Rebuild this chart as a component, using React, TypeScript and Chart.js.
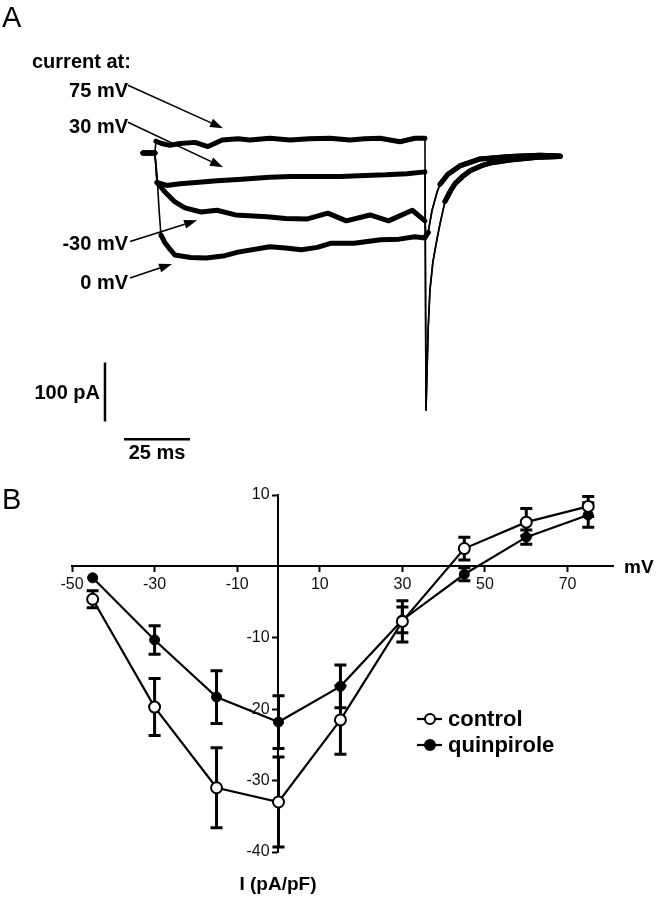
import React, { useEffect, useRef } from 'react';
import { Chart, registerables } from 'chart.js';

Chart.register(...registerables);

const FONT = '"Liberation Sans", Arial, Helvetica, sans-serif';
Chart.defaults.font.family = FONT;

// ---------------- Panel A data: [time (ms), current (pA)] ----------------
const trace75mV: number[][] = [
  [0, 0], [4.5, 0], [4.9, 20], [7, 16], [10.2, 13], [14, 16], [19.7, 18], [24.6, 11], [30, 22],
  [36, 24], [40.5, 22], [48, 25], [55.7, 22], [63, 24], [70.8, 25], [78.4, 22], [84, 24],
  [89.8, 25], [97.3, 19], [103, 25], [106.8, 25],
];
const trace30mV: number[][] = [
  [0, 0], [4.5, 0], [5.3, -50], [9, -55], [14, -52], [20, -50], [28, -47], [36, -45], [48, -41],
  [56, -40], [67, -40], [75, -40], [84, -38], [92, -37], [100, -35], [106.8, -32],
];
const traceMinus30mV: number[][] = [
  [0, 0], [4.5, 0], [5.3, -50], [8.3, -66], [12.1, -83], [15.9, -93], [22, -100], [28, -97],
  [35, -105], [47, -108], [54, -111], [62, -112], [70, -102], [77, -115], [86, -105], [93, -115],
  [102, -97], [106.8, -115],
];
const trace0mV: number[][] = [
  [0, 0], [4.5, 0], [5.3, -37], [6.1, -97], [6.8, -139], [8.3, -152], [10.2, -163], [12.1, -173],
  [18, -177], [24, -178], [31, -174], [36, -168], [48, -159], [54, -161], [60, -164], [66, -160],
  [71, -153], [80, -153], [90, -147], [97, -146], [103, -142], [106.8, -144],
];
const tailSlow: number[][] = [
  [107.2, -436], [107.6, -370], [108, -300], [108.7, -232], [109.8, -185], [111.4, -145],
  [112.5, -120], [114.4, -82], [116.5, -64], [118.2, -52], [121, -40], [123.9, -30], [128, -22],
  [131.4, -17], [139, -12], [150.4, -7], [158, -6],
];
const tailFast: number[][] = [
  [107.2, -140], [108, -135], [109.5, -97], [111.4, -66], [112.5, -53], [115.5, -36], [120, -22],
  [127.7, -10], [139, -6], [150.4, -4], [158, -5],
];
const traceLabels = ['75 mV', '30 mV', '-30 mV', '0 mV'];
// arrows: [fromTime, fromCurrent, toTime, toCurrent]
const traceArrows: number[][] = [
  [-5.7, 115, 30.3, 42],
  [-5.7, 52, 30.3, -24],
  [-4.9, -150, 20.5, -114],
  [-4.9, -212, 11, -188],
];
const scaleBarCurrent: number[][] = [[-14.4, -355], [-14.4, -455]];
const scaleBarTime: number[][] = [[-7.2, -485], [17.8, -485]];
const scaleBarCurrentLabel = '100 pA';
const scaleBarTimeLabel = '25 ms';

// ---------------- Panel B data ----------------
const voltages = [-45, -30, -15, 0, 15, 30, 45, 60, 75];
const controlMean = [-4.6, -19.7, -31, -33, -21.5, -7.7, 2.5, 6.2, 8.4];
const controlSem = [1.2, 4, 5.6, 6.3, 4.8, 2.9, 1.6, 1.9, 1.4];
const quinMean = [-1.6, -10.3, -18.3, -21.8, -16.8, -7.5, -1.1, 4.1, 7.2];
const quinSem = [0, 2, 3.7, 3.7, 3, 1.8, 0.9, 1, 1.7];
const xTicks = [-50, -30, -10, 10, 30, 50, 70];
const yTicks = [-40, -30, -20, -10, 10];
const seriesNames = ['control', 'quinpirole'];

const W = 657;
const HA = 470;
const HB = 429;
// Panel A layout
const A_ORIGIN_X = 143;
const A_ORIGIN_Y = 153;
const PX_PER_MS = 2.64;
const PX_PER_PA = 0.59;

const pts = (arr: number[][]) => arr.map(([x, y]) => ({ x, y }));

function drawArrow(ctx: CanvasRenderingContext2D, x0: number, y0: number, x1: number, y1: number) {
  const ang = Math.atan2(y1 - y0, x1 - x0);
  const len = 13;
  const hw = 4.5;
  const bx = x1 - len * Math.cos(ang);
  const by = y1 - len * Math.sin(ang);
  ctx.lineWidth = 1.6;
  ctx.beginPath();
  ctx.moveTo(x0, y0);
  ctx.lineTo(bx, by);
  ctx.stroke();
  ctx.beginPath();
  ctx.moveTo(x1, y1);
  ctx.lineTo(bx + hw * Math.sin(ang), by - hw * Math.cos(ang));
  ctx.lineTo(bx - hw * Math.sin(ang), by + hw * Math.cos(ang));
  ctx.closePath();
  ctx.fill();
}

function PanelA() {
  const ref = useRef<HTMLCanvasElement>(null);
  useEffect(() => {
    const canvas = ref.current!;
    const traces = [
      trace75mV.concat(tailSlow),
      trace30mV.concat(tailSlow),
      traceMinus30mV.concat(tailFast),
      trace0mV.concat(tailFast),
    ];
    const annot = {
      id: 'panelAAnnot',
      afterDatasetsDraw(chart: any) {
        const { ctx, scales } = chart;
        const sx = scales.x;
        const sy = scales.y;
        ctx.save();
        ctx.fillStyle = '#000';
        ctx.strokeStyle = '#000';
        traceArrows.forEach(([t0, i0, t1, i1]) =>
          drawArrow(ctx, sx.getPixelForValue(t0), sy.getPixelForValue(i0), sx.getPixelForValue(t1), sy.getPixelForValue(i1))
        );
        ctx.font = 'bold 20px ' + FONT;
        ctx.textBaseline = 'alphabetic';
        ctx.textAlign = 'left';
        ctx.fillText('current at:', 32, 68);
        ctx.textAlign = 'right';
        const baselines = [97, 133, 250, 289];
        traceLabels.forEach((lab, k) => ctx.fillText(lab, 128, baselines[k]));
        ctx.fillText(scaleBarCurrentLabel, 100, 399);
        ctx.textAlign = 'center';
        ctx.fillText(scaleBarTimeLabel, 157, 459);
        ctx.font = '29px ' + FONT;
        ctx.textAlign = 'left';
        ctx.fillText('A', 2, 27);
        ctx.restore();
      },
    };
    const traceDs = traces.map((tr) => ({
      data: pts(tr),
      borderColor: '#000',
      borderWidth: 5,
      borderCapStyle: 'round',
      borderJoinStyle: 'round',
      pointRadius: 0,
      tension: 0,
      clip: false,
      segment: {
        borderWidth: (c: any) => {
          const dx = Math.abs(c.p1.x - c.p0.x);
          const dy = Math.abs(c.p1.y - c.p0.y);
          return dy > 2.5 * dx ? 1.6 : 5;
        },
      },
    }));
    const barDs = [scaleBarCurrent, scaleBarTime].map((b) => ({
      data: pts(b),
      borderColor: '#000',
      borderWidth: 2.5,
      pointRadius: 0,
      clip: false,
    }));
    const chart = new Chart(canvas, {
      type: 'line',
      data: { datasets: [...traceDs, ...barDs] as any },
      options: {
        animation: false,
        responsive: false,
        devicePixelRatio: 1,
        layout: { padding: 0 },
        plugins: { legend: { display: false }, tooltip: { enabled: false } },
        scales: {
          x: {
            type: 'linear',
            display: false,
            min: -A_ORIGIN_X / PX_PER_MS,
            max: (W - A_ORIGIN_X) / PX_PER_MS,
          },
          y: {
            type: 'linear',
            display: false,
            min: -(HA - A_ORIGIN_Y) / PX_PER_PA,
            max: A_ORIGIN_Y / PX_PER_PA,
          },
        },
      } as any,
      plugins: [annot],
    });
    return () => chart.destroy();
  }, []);
  return (
    <canvas
      ref={ref}
      width={W}
      height={HA}
      style={{ position: 'absolute', left: 0, top: 0, width: W, height: HA }}
    />
  );
}

function PanelB() {
  const ref = useRef<HTMLCanvasElement>(null);
  useEffect(() => {
    const canvas = ref.current!;
    const stats = [
      { mean: controlMean, sem: controlSem },
      { mean: quinMean, sem: quinSem },
    ];
    const errorBars = {
      id: 'errorBars',
      beforeDatasetsDraw(chart: any) {
        const { ctx } = chart;
        const sy = chart.scales.y;
        ctx.save();
        ctx.strokeStyle = '#000';
        ctx.lineWidth = 3;
        stats.forEach((s, di) => {
          const meta = chart.getDatasetMeta(di);
          meta.data.forEach((pt: any, j: number) => {
            if (!s.sem[j]) return;
            const px = pt.x;
            const top = sy.getPixelForValue(s.mean[j] + s.sem[j]);
            const bot = sy.getPixelForValue(s.mean[j] - s.sem[j]);
            ctx.beginPath();
            ctx.moveTo(px, top);
            ctx.lineTo(px, bot);
            ctx.moveTo(px - 6, top);
            ctx.lineTo(px + 6, top);
            ctx.moveTo(px - 6, bot);
            ctx.lineTo(px + 6, bot);
            ctx.stroke();
          });
        });
        ctx.restore();
      },
    };
    const labels = {
      id: 'panelBLabels',
      afterDraw(chart: any) {
        const { ctx } = chart;
        ctx.save();
        ctx.fillStyle = '#000';
        ctx.strokeStyle = '#000';
        const rows = [249, 275];
        rows.forEach((ry, k) => {
          ctx.lineWidth = 2.2;
          ctx.beginPath();
          ctx.moveTo(417, ry);
          ctx.lineTo(442, ry);
          ctx.stroke();
          ctx.beginPath();
          ctx.arc(430, ry, 5, 0, Math.PI * 2);
          ctx.fillStyle = k === 0 ? '#fff' : '#000';
          ctx.fill();
          ctx.lineWidth = 2;
          ctx.stroke();
          ctx.fillStyle = '#000';
          ctx.font = 'bold 22px ' + FONT;
          ctx.textAlign = 'left';
          ctx.textBaseline = 'alphabetic';
          ctx.fillText(seriesNames[k], 448, ry + 7);
        });
        ctx.font = 'bold 19px ' + FONT;
        ctx.textAlign = 'left';
        ctx.fillText('mV', 624, 103);
        ctx.textAlign = 'center';
        ctx.fillText('I (pA/pF)', 278, 420);
        ctx.font = '29px ' + FONT;
        ctx.textAlign = 'left';
        ctx.fillText('B', 2, 39);
        ctx.restore();
      },
    };
    const axisCommon = {
      type: 'linear',
      grid: {
        drawOnChartArea: false,
        drawTicks: true,
        tickLength: 5,
        tickColor: '#000',
        tickWidth: 2,
        color: '#000',
      },
      border: { display: true, color: '#000', width: 2 },
    };
    const chart = new Chart(canvas, {
      type: 'line',
      data: {
        datasets: [
          {
            label: seriesNames[0],
            data: voltages.map((v, i) => ({ x: v, y: controlMean[i] })),
            borderColor: '#000',
            borderWidth: 2.2,
            pointRadius: 5.5,
            pointBackgroundColor: '#fff',
            pointBorderColor: '#000',
            pointBorderWidth: 2,
            tension: 0,
            clip: false,
          },
          {
            label: seriesNames[1],
            data: voltages.map((v, i) => ({ x: v, y: quinMean[i] })),
            borderColor: '#000',
            borderWidth: 2.2,
            pointRadius: 5,
            pointBackgroundColor: '#000',
            pointBorderColor: '#000',
            pointBorderWidth: 1,
            tension: 0,
            clip: false,
          },
        ] as any,
      },
      options: {
        animation: false,
        responsive: false,
        devicePixelRatio: 1,
        layout: { padding: { left: 72, right: 44, top: 25, bottom: 47 } },
        plugins: { legend: { display: false }, tooltip: { enabled: false } },
        scales: {
          x: {
            ...axisCommon,
            min: -50,
            max: 81,
            position: { y: 0 },
            afterBuildTicks: (s: any) => {
              s.ticks = xTicks.map((v) => ({ value: v }));
            },
            ticks: {
              font: { size: 16, family: FONT },
              color: '#111',
              padding: 4,
              maxRotation: 0,
              autoSkip: false,
              callback: (v: any) => String(v),
            },
          },
          y: {
            ...axisCommon,
            min: -40,
            max: 10,
            position: { x: 0 },
            afterBuildTicks: (s: any) => {
              s.ticks = yTicks.map((v) => ({ value: v }));
            },
            ticks: {
              font: { size: 16, family: FONT },
              color: '#111',
              autoSkip: false,
              callback: (v: any) => `${v}  `,
            },
          },
        },
      } as any,
      plugins: [errorBars, labels],
    });
    return () => chart.destroy();
  }, []);
  return (
    <canvas
      ref={ref}
      width={W}
      height={HB}
      style={{ position: 'absolute', left: 0, top: HA, width: W, height: HB }}
    />
  );
}

export default function App() {
  return (
    <div style={{ position: 'absolute', left: 0, top: 0, width: W, height: HA + HB, background: '#fff' }}>
      <PanelA />
      <PanelB />
    </div>
  );
}
